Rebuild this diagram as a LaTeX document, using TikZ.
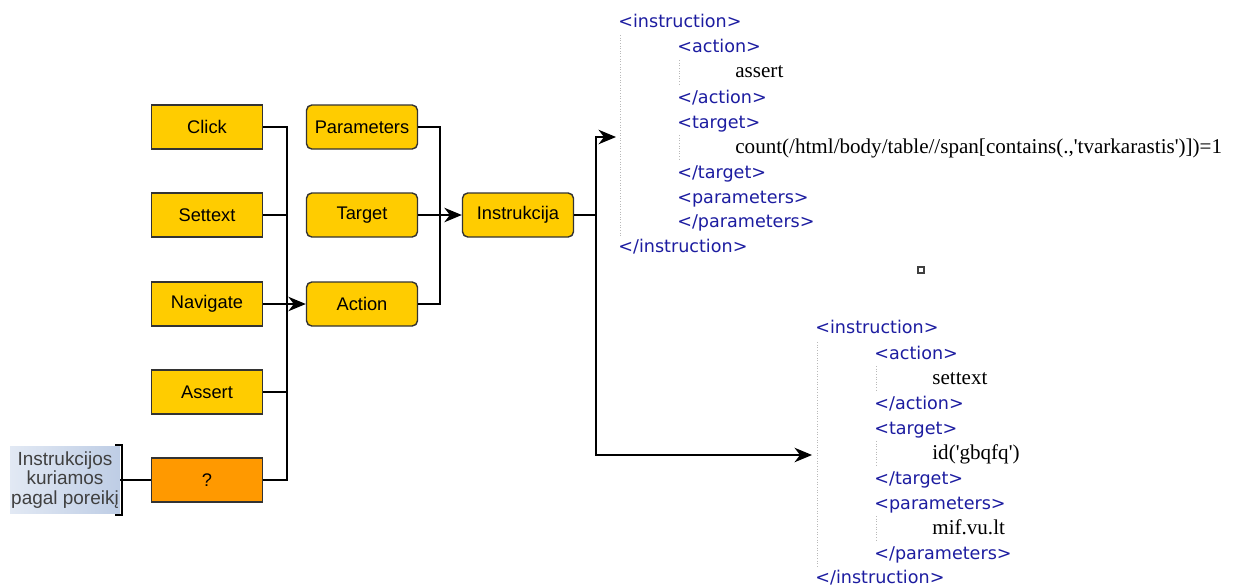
\documentclass[tikz,border=0pt]{standalone}
\usepackage{fontspec}
\setmainfont{Liberation Sans}
\newfontfamily\tagfont{DejaVu Sans}
\newfontfamily\valfont{Liberation Serif}
\usetikzlibrary{arrows.meta,positioning}
\definecolor{boxyellow}{RGB}{255,204,0}
\definecolor{boxorange}{RGB}{255,153,0}
\definecolor{tagblue}{RGB}{28,28,160}
\definecolor{notelight}{RGB}{226,233,244}
\definecolor{notedark}{RGB}{190,205,229}
\definecolor{guidegray}{RGB}{185,185,185}

\begin{document}
\begin{tikzpicture}[
    x=0.02cm, y=-0.02cm,
    box/.style={draw=black!80,line width=0.8pt,fill=boxyellow,minimum width=2.22cm,minimum height=0.88cm,inner sep=0pt,font=\fontsize{10.4}{12}\selectfont},
    rbox/.style={box,rounded corners=3pt},
    tag/.style={anchor=west,inner sep=0pt,text height=8pt,text depth=2pt,text=tagblue,font=\tagfont\fontsize{10}{12}\selectfont},
    val/.style={anchor=west,inner sep=0pt,text height=8pt,text depth=2pt,font=\valfont\fontsize{12}{14}\selectfont},
    wire/.style={line width=0.7pt},
    flow/.style={wire,-{Stealth[length=3.5mm,width=2.9mm,inset=1.1mm]}},
    guide/.style={guidegray,densely dotted,line width=0.5pt}
]
\useasboundingbox (0,0) rectangle (1235,586);

% Instruction kinds
\node[box] (click) at (207,127) {Click};
\node[box] (settext) at (207,215) {Settext};
\node[box] (navigate) at (207,304) {Navigate};
\node[box] (assert) at (207,392) {Assert};
\node[box,fill=boxorange] (quest) at (207,480) {?};

% Note on the left
\node[left color=notelight,right color=notedark,minimum width=2.2cm,minimum height=1.34cm,inner sep=0pt,align=center,text=black!75,font=\fontsize{10.8}{11}\selectfont] (note) at (65,480) {Instrukcijos\\kuriamos\\pagal poreikį};
\draw[line width=1.4pt] (115,445) -- (122,445) -- (122,515) -- (115,515);

% Instruction parts
\node[rbox] (params) at (362,127) {Parameters};
\node[rbox] (target) at (362,215) {Target};
\node[rbox] (action) at (362,304) {Action};

% Instruction
\node[rbox] (instr) at (518,215) {Instrukcija};

% Junctions
\coordinate (joinA) at (287,304);
\coordinate (joinB) at (440,215);
\coordinate (joinC) at (596,215);
\coordinate (upperIn) at (616,137);
\coordinate (lowerIn) at (812,455);

% Connections
\draw[wire] (click.east) -| (joinA);
\draw[wire] (settext.east) -| (joinA);
\draw[wire] (assert.east) -| (joinA);
\draw[wire] (quest.east) -| (joinA);
\draw[wire] (note.east) -- (quest.west);
\draw[flow] (navigate) -- (action);
\draw[wire] (params.east) -| (joinB);
\draw[wire] (action.east) -| (joinB);
\draw[flow] (target) -- (instr);
\draw[wire] (instr.east) -- (joinC);
\draw[flow] (joinC) |- (upperIn);
\draw[flow] (joinC) |- (lowerIn);

% Upper instruction
\draw[guide] (620,35) -- (620,236);
\draw[guide] (679,60) -- (679,85);
\draw[guide] (679,135) -- (679,161);
\node[tag] (uInstrOpen) at (618,22) {<instruction>};
\node[tag] (uActOpen) at (677,47) {<action>};
\node[val] (uActVal) at (735,72) {assert};
\node[tag] (uActClose) at (677,98) {</action>};
\node[tag] (uTgtOpen) at (677,123) {<target>};
\node[val] (uTgtVal) at (735,148) {count(/html/body/table//span[contains(.,\textquotesingle tvarkarastis\textquotesingle)])=1};
\node[tag] (uTgtClose) at (677,173) {</target>};
\node[tag] (uParOpen) at (677,198) {<parameters>};
\node[tag] (uParClose) at (677,222) {</parameters>};
\node[tag] (uInstrClose) at (618,247) {</instruction>};

% Marker
\node[draw=black!75,line width=0.7pt,minimum size=0.12cm,inner sep=0pt] (mark) at (921,270) {};

% Lower instruction
\draw[guide] (817,342) -- (817,568);
\draw[guide] (876,366) -- (876,392);
\draw[guide] (876,441) -- (876,467);
\draw[guide] (876,516) -- (876,541);
\node[tag] (lInstrOpen) at (815,328) {<instruction>};
\node[tag] (lActOpen) at (874,354) {<action>};
\node[val] (lActVal) at (932,379) {settext};
\node[tag] (lActClose) at (874,404) {</action>};
\node[tag] (lTgtOpen) at (874,429) {<target>};
\node[val] (lTgtVal) at (932,454) {id(\textquotesingle gbqfq\textquotesingle)};
\node[tag] (lTgtClose) at (874,479) {</target>};
\node[tag] (lParOpen) at (874,504) {<parameters>};
\node[val] (lParVal) at (932,529) {mif.vu.lt};
\node[tag] (lParClose) at (874,554) {</parameters>};
\node[tag] (lInstrClose) at (815,578) {</instruction>};

\end{tikzpicture}
\end{document}
